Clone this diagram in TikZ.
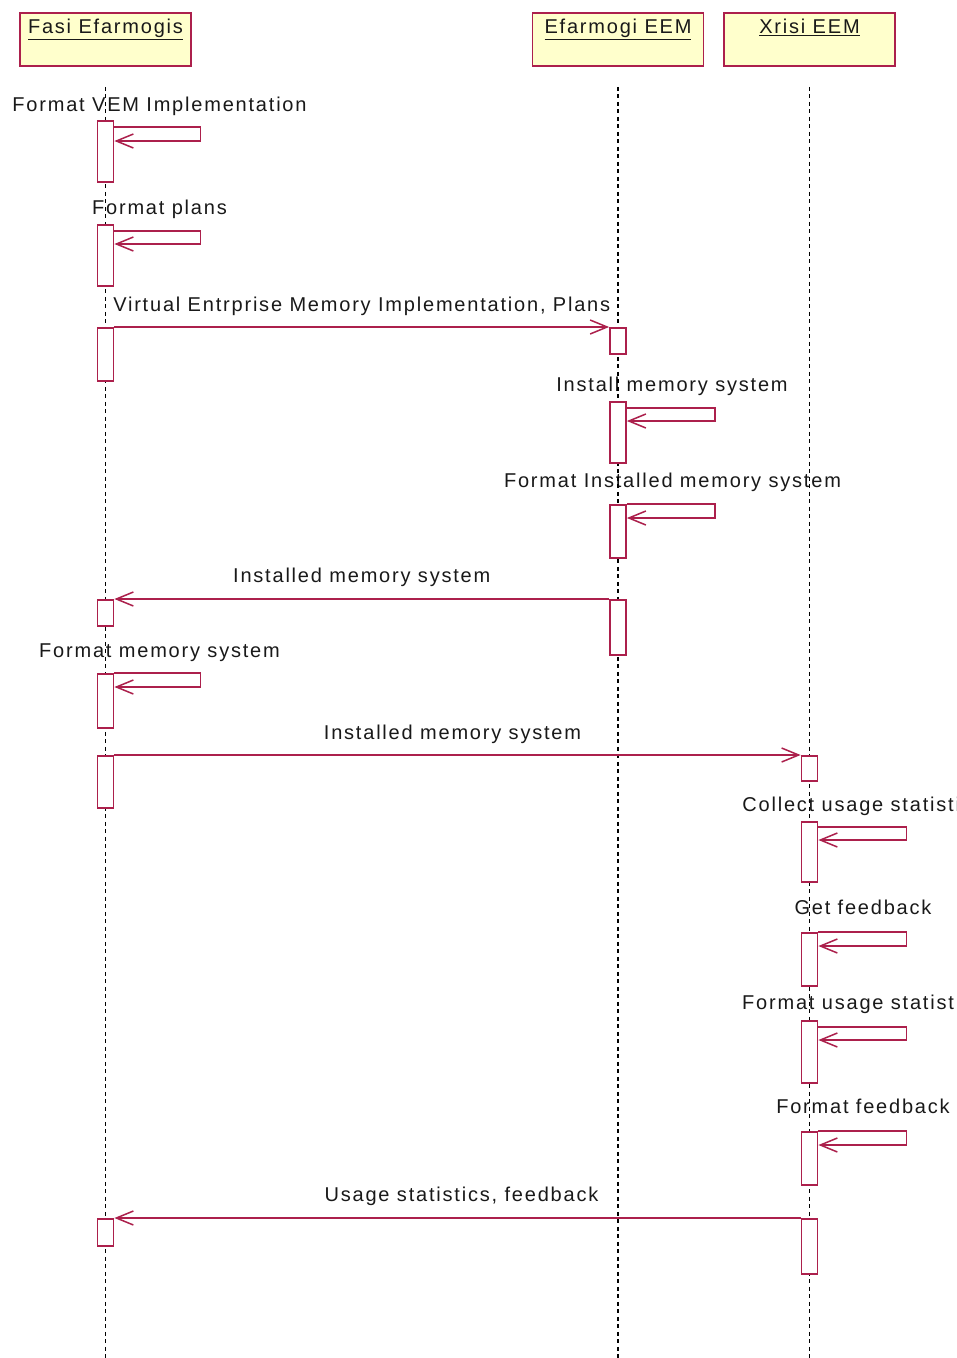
\documentclass[tikz,border=0pt]{standalone}
\usepackage{fontspec}
\setmainfont{Liberation Sans}[LetterSpace=9]
\usetikzlibrary{arrows.meta}
\definecolor{umlred}{RGB}{172,32,76}
\definecolor{umlfill}{RGB}{255,255,204}
\definecolor{umltext}{RGB}{25,25,25}

\begin{document}
\begin{tikzpicture}[x=1pt,y=-1pt,
  font=\fontsize{20}{23}\selectfont,
  header/.style={draw=umlred, fill=umlfill, line width=1.8pt, minimum width=171pt,
    minimum height=53pt, inner sep=0pt, anchor=north},
  lifeline/.style={draw=black, line width=1.7pt, dash pattern=on 4pt off 3.5pt},
  act/.style={draw=umlred, fill=white, line width=1.8pt, minimum width=16pt,
    inner sep=0pt, anchor=north},
  msg/.style={draw=umlred, line width=1.5pt, -{Straight Barb[length=17pt,width=14pt]}},
  txt/.style={text=umltext, inner sep=0pt, anchor=base},
]
\useasboundingbox[fill=white] (0,0) rectangle (957,1358);
\coordinate (bot) at (0,1358);

% object headers
\node[header] (hA) at (105.5,12) {};
\node[header] (hB) at (618,12) {};
\node[header] (hC) at (809.5,12) {};
\node[txt] (tA) at ([yshift=-21.5pt]hA.north) {\underline{Fasi Efarmogis}};
\node[txt] (tB) at ([yshift=-21.5pt]hB.north) {\underline{Efarmogi EEM}};
\node[txt] (tC) at ([yshift=-21.5pt]hC.north) {\underline{Xrisi EEM}};

% self-call labels
\node[txt] (s1) at (159.5,111.5) {Format VEM Implementation};
\node[txt] (s2) at (159.5,214.5) {Format plans};
\node[txt] (s3) at (672,391.5) {Install memory system};
\node[txt] (s4) at (672.5,487.5) {Format Installed memory system};
\node[txt] (s5) at (159.5,657.5) {Format memory system};
\node[txt] (s6) at (863,811.5) {Collect usage statistics};
\node[txt] (s7) at (863,914.5) {Get feedback};
\node[txt] (s8) at (863,1009.5) {Format usage statistics};
\node[txt] (s9) at (863,1113.5) {Format feedback};

% lifelines
\draw[lifeline] ([yshift=-20pt]hA.south) -- (hA.south |- bot);
\draw[lifeline] ([yshift=-20pt]hB.south) -- (hB.south |- bot);
\draw[lifeline] ([yshift=-20pt]hC.south) -- (hC.south |- bot);

% activation bars
\node[act, minimum height=61pt] (a1) at (105.5,120) {};
\node[act, minimum height=61pt] (a2) at (105.5,224) {};
\node[act, minimum height=53pt] (a3) at (105.5,327) {};
\node[act, minimum height=26pt] (a4) at (105.5,599) {};
\node[act, minimum height=54pt] (a5) at (105.5,673) {};
\node[act, minimum height=52pt] (a6) at (105.5,755) {};
\node[act, minimum height=27pt] (a7) at (105.5,1218) {};

\node[act, minimum height=26pt] (b1) at (618,327) {};
\node[act, minimum height=61pt] (b2) at (618,401) {};
\node[act, minimum height=53pt] (b3) at (618,504) {};
\node[act, minimum height=55pt] (b4) at (618,599) {};

\node[act, minimum height=25pt] (c1) at (809.5,755) {};
\node[act, minimum height=60pt] (c2) at (809.5,821) {};
\node[act, minimum height=53pt] (c3) at (809.5,932) {};
\node[act, minimum height=62pt] (c4) at (809.5,1020) {};
\node[act, minimum height=53pt] (c5) at (809.5,1131) {};
\node[act, minimum height=55pt] (c6) at (809.5,1218) {};

% self calls
\draw[msg] ([yshift=-7pt]a1.north east) -- ++(86,0) -- ++(0,14) -- ([yshift=-21pt]a1.north east);
\draw[msg] ([yshift=-7pt]a2.north east) -- ++(86,0) -- ++(0,13) -- ([yshift=-20pt]a2.north east);
\draw[msg] ([yshift=-7pt]b2.north east) -- ++(88,0) -- ++(0,13) -- ([yshift=-20pt]b2.north east);
\draw[msg] ([yshift=0pt]b3.north east) -- ++(88,0) -- ++(0,14) -- ([yshift=-14pt]b3.north east);
\draw[msg] ([yshift=0pt]a5.north east) -- ++(86,0) -- ++(0,14) -- ([yshift=-14pt]a5.north east);
\draw[msg] ([yshift=-6pt]c2.north east) -- ++(88,0) -- ++(0,13) -- ([yshift=-19pt]c2.north east);
\draw[msg] ([yshift=0pt]c3.north east) -- ++(88,0) -- ++(0,14) -- ([yshift=-14pt]c3.north east);
\draw[msg] ([yshift=-7pt]c4.north east) -- ++(88,0) -- ++(0,13) -- ([yshift=-20pt]c4.north east);
\draw[msg] ([yshift=0pt]c5.north east) -- ++(88,0) -- ++(0,14) -- ([yshift=-14pt]c5.north east);

% messages between objects
\draw[msg] (a3.north east) -- (b1.north west)
  node[midway, txt, yshift=16pt] (m1) {Virtual Entrprise Memory Implementation, Plans};
\draw[msg] (b4.north west) -- (a4.north east)
  node[midway, txt, yshift=16.5pt] (m2) {Installed memory system};
\draw[msg] (a6.north east) -- (c1.north west)
  node[midway, txt, yshift=16pt, xshift=-5pt] (m3) {Installed memory system};
\draw[msg] (c6.north west) -- (a7.north east)
  node[midway, txt, yshift=16.5pt, xshift=4pt] (m4) {Usage statistics, feedback};
\end{tikzpicture}
\end{document}
